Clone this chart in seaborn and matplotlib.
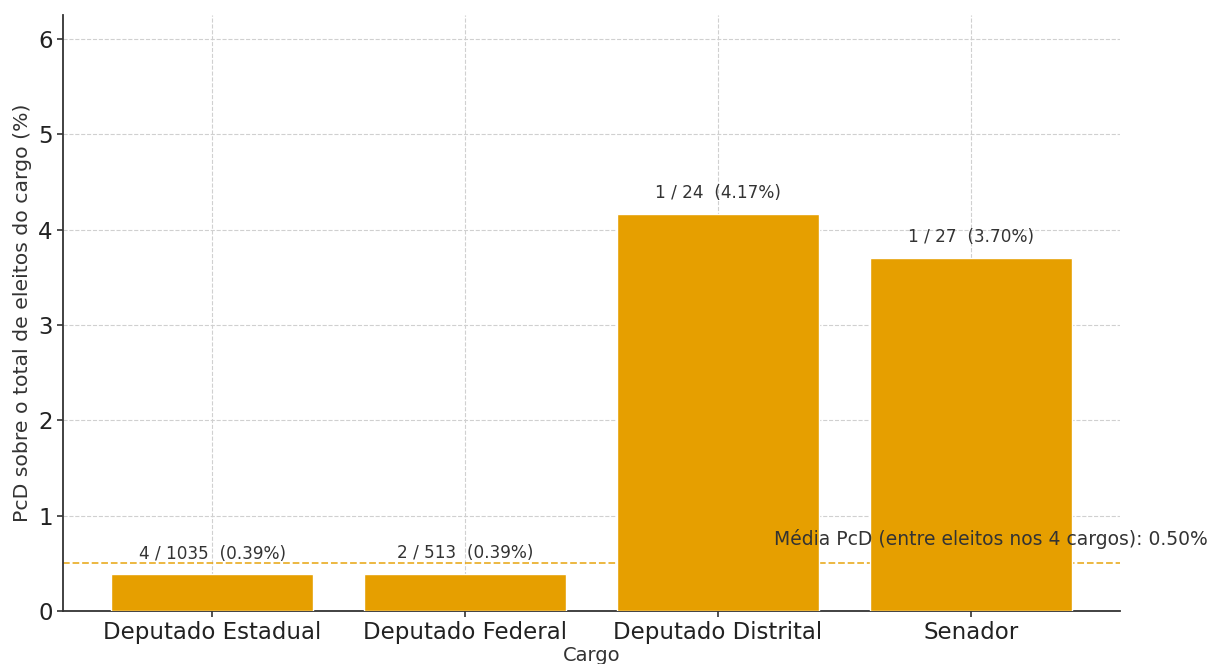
import matplotlib
matplotlib.use("Agg")
import matplotlib.pyplot as plt
import seaborn as sns
import pandas as pd

cargos = ["Deputado Estadual", "Deputado Federal", "Deputado Distrital", "Senador"]
pcd = [4, 2, 1, 1]
eleitos = [1035, 513, 24, 27]
pct = [100 * p / e for p, e in zip(pcd, eleitos)]
media_pct = 0.50

df = pd.DataFrame({"Cargo": cargos, "pct": pct})

sns.set_style("white")
plt.rcParams['font.family'] = ['DejaVu Sans']

fig = plt.figure(figsize=(12.12, 6.64), dpi=100)
ax = fig.add_axes([63 / 1212, 53 / 664, 1057 / 1212, 596 / 664])

sns.barplot(data=df, x="Cargo", y="pct", color="#E69F00", saturation=1,
            width=0.8, ax=ax, zorder=3)
ax.set_xlim(-0.59, 3.59)
ax.set_ylim(0, max(pct) * 1.5)

ax.grid(True, linestyle="--", color="#d0d0d0", linewidth=0.8, zorder=0)
ax.set_axisbelow(True)
for s in ["top", "right"]:
    ax.spines[s].set_visible(False)
for s in ["left", "bottom"]:
    ax.spines[s].set_color("#333333")
    ax.spines[s].set_linewidth(1.3)

ax.axhline(media_pct, color="#E69F00", linestyle="--", linewidth=1.3, alpha=0.8, zorder=2)
ax.text(2.22, media_pct + 0.15, f"Média PcD (entre eleitos nos 4 cargos): {media_pct:.2f}%",
        ha="left", va="bottom", fontsize=13.5, color="#333333", zorder=5, clip_on=False)

for i, (p, e, v) in enumerate(zip(pcd, eleitos, pct)):
    ax.text(i, v + 0.12, f"{p} / {e}  ({v:.2f}%)", ha="center", va="bottom",
            fontsize=12.2, color="#333333", zorder=5)

ax.tick_params(axis="both", labelsize=16.5, colors="#333333", length=4, width=1.2,
               left=True, bottom=True, labelcolor="#222222")
ax.set_xlabel("Cargo", fontsize=14, color="#333333", labelpad=1)
ax.set_ylabel("PcD sobre o total de eleitos do cargo (%)", fontsize=14.7, color="#333333")

fig.savefig("out.png", dpi=100)
